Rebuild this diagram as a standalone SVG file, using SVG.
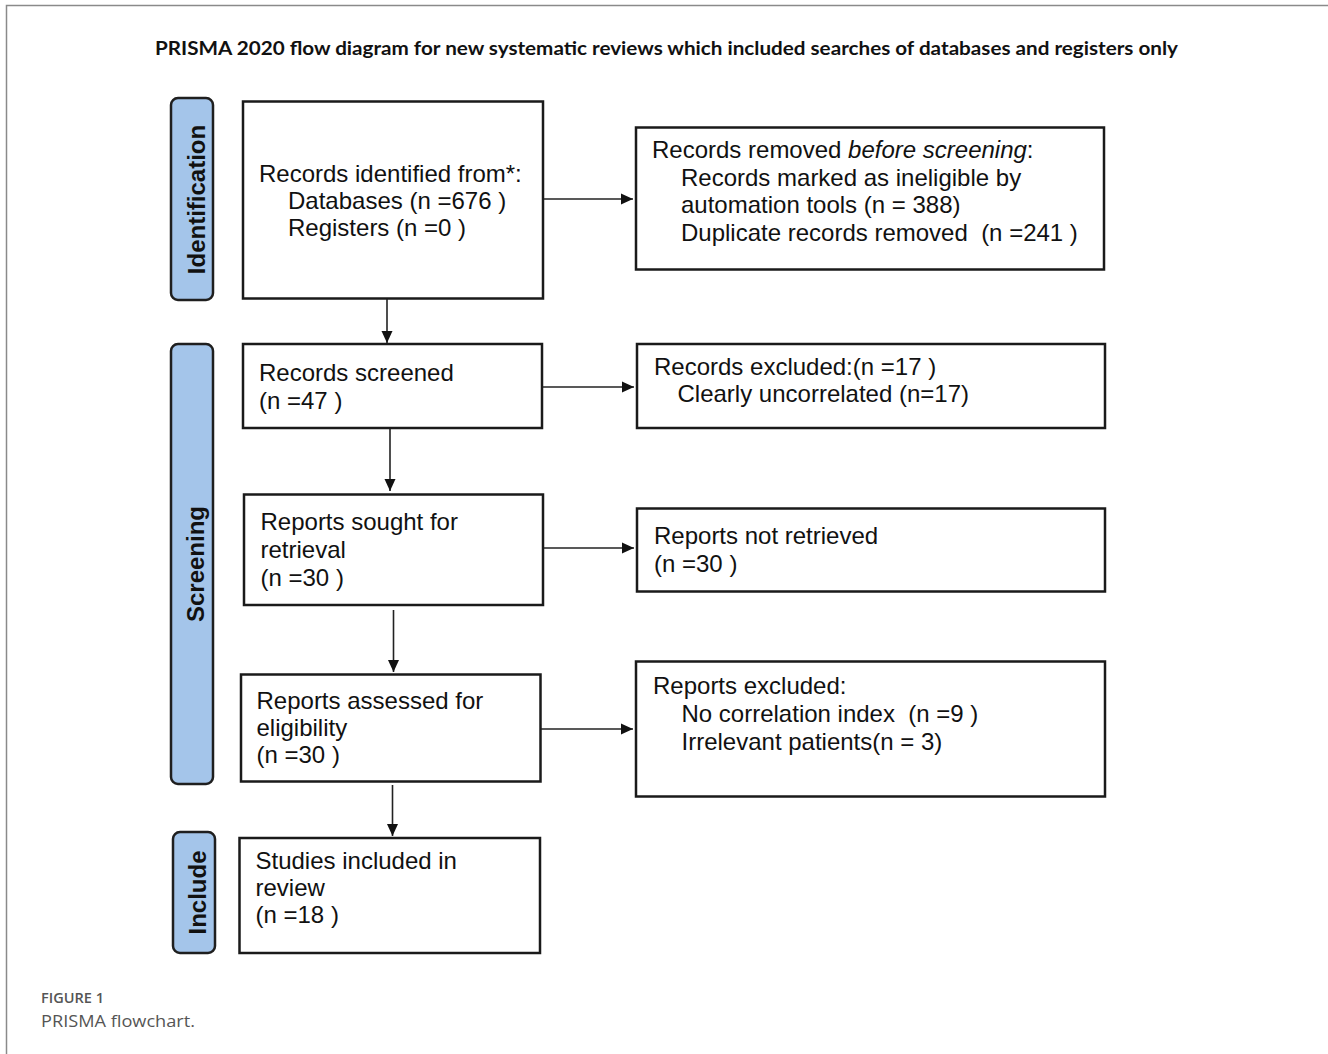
<svg xmlns="http://www.w3.org/2000/svg" width="1328" height="1054" viewBox="0 0 1328 1054">
<style>
.box{fill:#fff;stroke:#1a1a1a;stroke-width:2.5}
.lab{fill:#a4c5ea;stroke:#1f1f1f;stroke-width:2.5}
.t{font-family:"Liberation Sans",Arial,sans-serif;font-size:24px;fill:#111;white-space:pre}
.lt{font-family:"Liberation Sans",Arial,sans-serif;font-size:24px;font-weight:bold;fill:#111}
.c{stroke:#222;stroke-width:1.6;fill:none}
</style>
<defs>
<marker id="ah" markerWidth="12" markerHeight="12" viewBox="0 0 12 12" refX="12" refY="6" orient="auto" markerUnits="userSpaceOnUse">
<path d="M0,0.5 L12,6 L0,11.5 Z" fill="#111"/>
</marker>
</defs>
<rect width="1328" height="1054" fill="#fff"/>
<path d="M6.5,1054 V5.5 H1328" fill="none" stroke="#8a8a8a" stroke-width="1.5"/>
<text x="155" y="55" font-family="Lato,'Open Sans',sans-serif" font-weight="bold" font-size="19" fill="#111" textLength="1023" lengthAdjust="spacingAndGlyphs">PRISMA 2020 flow diagram for new systematic reviews which included searches of databases and registers only</text>

<g id="label-identification">
<rect class="lab" x="171" y="98" width="42" height="202" rx="7"/>
<text class="lt" transform="translate(205,199.5) rotate(-90)" text-anchor="middle">Identification</text>
</g>
<g id="label-screening">
<rect class="lab" x="171" y="344" width="42" height="440" rx="7"/>
<text class="lt" transform="translate(203.5,564) rotate(-90)" text-anchor="middle">Screening</text>
</g>
<g id="label-include">
<rect class="lab" x="173" y="832" width="42" height="121" rx="7"/>
<text class="lt" transform="translate(206,892.5) rotate(-90)" text-anchor="middle">Include</text>
</g>

<g id="records-identified">
<rect class="box" x="243" y="101.5" width="300" height="197"/>
<text class="t" x="259" y="181.5">Records identified from*:</text>
<text class="t" x="288" y="208.5">Databases (n =676 )</text>
<text class="t" x="288" y="235.5">Registers (n =0 )</text>
</g>
<g id="records-removed">
<rect class="box" x="636" y="127.5" width="468" height="142"/>
<text class="t" x="652" y="158">Records removed <tspan font-style="italic">before screening</tspan>:</text>
<text class="t" x="681" y="185.5">Records marked as ineligible by</text>
<text class="t" x="681" y="213">automation tools (n = 388)</text>
<text class="t" x="681" y="240.5" xml:space="preserve">Duplicate records removed  (n =241 )</text>
</g>
<g id="records-screened">
<rect class="box" x="243" y="344" width="299" height="84"/>
<text class="t" x="259" y="380.5">Records screened</text>
<text class="t" x="259" y="408.5">(n =47 )</text>
</g>
<g id="records-excluded">
<rect class="box" x="637" y="344" width="468" height="84"/>
<text class="t" x="654" y="375">Records excluded:(n =17 )</text>
<text class="t" x="677.5" y="402">Clearly uncorrelated (n=17)</text>
</g>
<g id="reports-sought">
<rect class="box" x="244" y="494.5" width="299" height="110.5"/>
<text class="t" x="260.5" y="530">Reports sought for</text>
<text class="t" x="260.5" y="558">retrieval</text>
<text class="t" x="260.5" y="585.5">(n =30 )</text>
</g>
<g id="reports-not-retrieved">
<rect class="box" x="637" y="508.5" width="468" height="83"/>
<text class="t" x="654" y="544">Reports not retrieved</text>
<text class="t" x="654" y="571.5">(n =30 )</text>
</g>
<g id="reports-assessed">
<rect class="box" x="241" y="674.5" width="299.5" height="107"/>
<text class="t" x="256.5" y="708.5">Reports assessed for</text>
<text class="t" x="256.5" y="735.5">eligibility</text>
<text class="t" x="256.5" y="762.5">(n =30 )</text>
</g>
<g id="reports-excluded">
<rect class="box" x="636" y="661.5" width="469" height="135"/>
<text class="t" x="653" y="694">Reports excluded:</text>
<text class="t" x="681.5" y="722" xml:space="preserve">No correlation index  (n =9 )</text>
<text class="t" x="681.5" y="749.5">Irrelevant patients(n = 3)</text>
</g>
<g id="studies-included">
<rect class="box" x="239.5" y="838" width="300.5" height="115"/>
<text class="t" x="255.5" y="868.5">Studies included in</text>
<text class="t" x="255.5" y="895.5">review</text>
<text class="t" x="255.5" y="923">(n =18 )</text>
</g>

<g id="connectors">
<line class="c" x1="387" y1="299" x2="387" y2="343" marker-end="url(#ah)"/>
<line class="c" x1="544" y1="199" x2="633" y2="199" marker-end="url(#ah)"/>
<line class="c" x1="543" y1="387" x2="634" y2="387" marker-end="url(#ah)"/>
<line class="c" x1="390" y1="429" x2="390" y2="491" marker-end="url(#ah)"/>
<line class="c" x1="544" y1="548" x2="634" y2="548" marker-end="url(#ah)"/>
<line class="c" x1="393.5" y1="610" x2="393.5" y2="672" marker-end="url(#ah)"/>
<line class="c" x1="541" y1="729" x2="633" y2="729" marker-end="url(#ah)"/>
<line class="c" x1="392.5" y1="785" x2="392.5" y2="836" marker-end="url(#ah)"/>
</g>

<text x="41" y="1003" font-family="'Open Sans',sans-serif" font-weight="600" font-size="14" fill="#555" textLength="63" lengthAdjust="spacingAndGlyphs">FIGURE 1</text>
<text x="41" y="1027" font-family="'Open Sans',sans-serif" font-size="17" fill="#555" textLength="154" lengthAdjust="spacingAndGlyphs">PRISMA flowchart.</text>
</svg>
